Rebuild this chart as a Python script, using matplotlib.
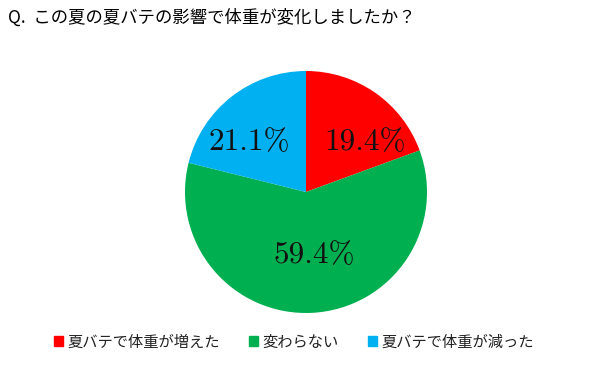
import matplotlib
matplotlib.use("Agg")
import matplotlib.pyplot as plt

categories = ["夏バテで体重が増えた", "変わらない", "夏バテで体重が減った"]
values = [19.4, 59.4, 21.1]
colors = ["#FF0000", "#00B050", "#00B0F0"]
title = "Q.  この夏の夏バテの影響で体重が変化しましたか？"

# label positions (axes-data units, radius = 1)
label_pos = [(0.49, 0.41), (0.07, -0.52), (-0.47, 0.41)]

plt.rcParams['font.family'] = ['Noto Sans CJK JP', 'DejaVu Sans']

fig = plt.figure(figsize=(5.92, 3.77), dpi=100)
fig.patch.set_facecolor("white")
ax = fig.add_axes([185/592, 64/377, 242/592, 242/377])
wedges, _ = ax.pie(values, colors=colors, startangle=90, counterclock=False,
                   radius=1, wedgeprops=dict(linewidth=0))
ax.set_xlim(-1, 1)
ax.set_ylim(-1, 1)
ax.set_aspect("equal")

for v, (x, y) in zip(values, label_pos):
    ax.text(x, y, f"{v:.1f}%", ha="center", va="center", fontsize=22.5,
            family=["cmr10", "DejaVu Serif"], color="#111111")

fig.text(8/592, 1 - 18/377, title, ha="left", va="center", fontsize=12.5,
         color="black")

handles = [plt.Rectangle((0, 0), 1, 1, color=c) for c in colors]
leg = fig.legend(handles, categories, loc="center", bbox_to_anchor=(294/592, 1 - 342/377),
                 ncol=3, frameon=False, fontsize=11, handlelength=0.6, handleheight=0.6,
                 handletextpad=0.3, columnspacing=1.9)
for t in leg.get_texts():
    t.set_color("#222222")

fig.savefig("out.png", dpi=100, facecolor="white")
